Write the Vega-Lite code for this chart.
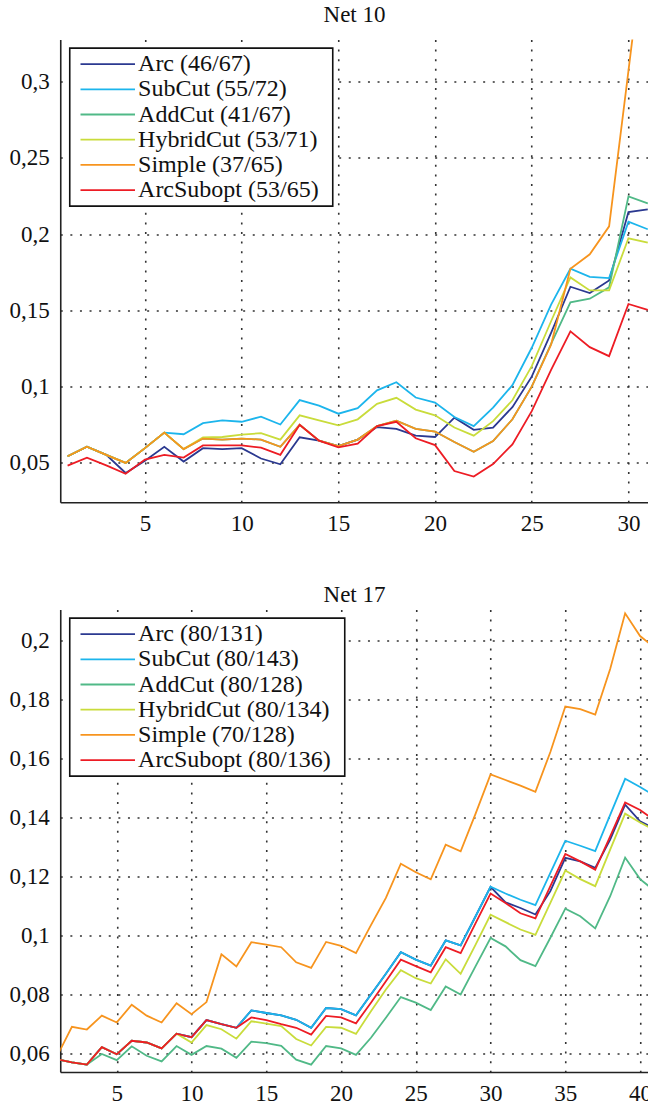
{
  "$schema": "https://vega.github.io/schema/vega-lite/v6.json",
  "background": "white",
  "padding": {"left": 8.25, "top": 3.5, "right": 0, "bottom": 0},
  "spacing": 107,
  "bounds": "flush",
  "config": {
    "view": {"stroke": null},
    "font": "Liberation Serif",
    "title": {"font": "Liberation Serif", "fontSize": 23, "fontWeight": "normal", "color": "#111", "anchor": "middle", "baseline": "alphabetic"},
    "axis": {
      "title": null, "grid": true, "gridColor": "#333", "gridDash": [2, 7.6], "gridWidth": 1.6,
      "domainColor": "#222", "domainWidth": 1.6, "ticks": false,
      "labelFont": "Liberation Serif", "labelFontSize": 23, "labelColor": "#111"
    },
    "axisX": {"labelPadding": 10},
    "axisY": {"labelPadding": 11},
    "legend": {
      "orient": "none", "legendX": 9.5, "legendY": 8.6,
      "titleOrient": "right", "titlePadding": 10, "titleFontSize": 3, "titleColor": "white",
      "symbolType": "M-2.5,0H2.5", "symbolSize": 475, "symbolStrokeWidth": 1.8,
      "symbolOffset": 22, "labelOffset": 18.3, "rowPadding": 1.2, "padding": 4,
      "labelFont": "Liberation Serif", "labelFontSize": 24, "labelColor": "#111",
      "strokeColor": "#111", "strokeWidth": 1.6, "fillColor": "white", "cornerRadius": 0, "labelLimit": 400
    },
    "line": {"strokeWidth": 1.8, "clip": true}
  },
  "datasets": {
    "net10": [
      {"x":1,"Arc":0.0544,"SubCut":0.0544,"AddCut":0.0544,"HybridCut":0.0544,"Simple":0.0544,"ArcSubopt":0.0482},
      {"x":2,"Arc":0.0606,"SubCut":0.0606,"AddCut":0.0606,"HybridCut":0.0606,"Simple":0.0606,"ArcSubopt":0.0535},
      {"x":3,"Arc":0.0553,"SubCut":0.0553,"AddCut":0.0553,"HybridCut":0.0553,"Simple":0.0553,"ArcSubopt":0.0484},
      {"x":4,"Arc":0.0434,"SubCut":0.0500,"AddCut":0.0500,"HybridCut":0.0500,"Simple":0.0500,"ArcSubopt":0.0429},
      {"x":5,"Arc":0.0515,"SubCut":0.0597,"AddCut":0.0597,"HybridCut":0.0597,"Simple":0.0597,"ArcSubopt":0.0522},
      {"x":6,"Arc":0.0606,"SubCut":0.0699,"AddCut":0.0699,"HybridCut":0.0699,"Simple":0.0699,"ArcSubopt":0.0553},
      {"x":7,"Arc":0.0509,"SubCut":0.0688,"AddCut":0.0591,"HybridCut":0.0591,"Simple":0.0591,"ArcSubopt":0.0535},
      {"x":8,"Arc":0.0597,"SubCut":0.0761,"AddCut":0.0660,"HybridCut":0.0668,"Simple":0.0660,"ArcSubopt":0.0615},
      {"x":9,"Arc":0.0591,"SubCut":0.0779,"AddCut":0.0653,"HybridCut":0.0670,"Simple":0.0653,"ArcSubopt":0.0615},
      {"x":10,"Arc":0.0597,"SubCut":0.0770,"AddCut":0.0660,"HybridCut":0.0686,"Simple":0.0660,"ArcSubopt":0.0615},
      {"x":11,"Arc":0.0529,"SubCut":0.0803,"AddCut":0.0653,"HybridCut":0.0695,"Simple":0.0653,"ArcSubopt":0.0600},
      {"x":12,"Arc":0.0491,"SubCut":0.0752,"AddCut":0.0606,"HybridCut":0.0653,"Simple":0.0606,"ArcSubopt":0.0553},
      {"x":13,"Arc":0.0668,"SubCut":0.0912,"AddCut":0.0750,"HybridCut":0.0812,"Simple":0.0750,"ArcSubopt":0.0750},
      {"x":14,"Arc":0.0646,"SubCut":0.0876,"AddCut":0.0646,"HybridCut":0.0779,"Simple":0.0646,"ArcSubopt":0.0646},
      {"x":15,"Arc":0.0611,"SubCut":0.0823,"AddCut":0.0611,"HybridCut":0.0746,"Simple":0.0611,"ArcSubopt":0.0602},
      {"x":16,"Arc":0.0653,"SubCut":0.0859,"AddCut":0.0653,"HybridCut":0.0786,"Simple":0.0653,"ArcSubopt":0.0626},
      {"x":17,"Arc":0.0735,"SubCut":0.0976,"AddCut":0.0741,"HybridCut":0.0887,"Simple":0.0741,"ArcSubopt":0.0741},
      {"x":18,"Arc":0.0724,"SubCut":0.1029,"AddCut":0.0777,"HybridCut":0.0927,"Simple":0.0777,"ArcSubopt":0.0770},
      {"x":19,"Arc":0.0679,"SubCut":0.0929,"AddCut":0.0724,"HybridCut":0.0850,"Simple":0.0724,"ArcSubopt":0.0662},
      {"x":20,"Arc":0.0670,"SubCut":0.0896,"AddCut":0.0706,"HybridCut":0.0812,"Simple":0.0706,"ArcSubopt":0.0617},
      {"x":21,"Arc":0.0797,"SubCut":0.0801,"AddCut":0.0637,"HybridCut":0.0732,"Simple":0.0637,"ArcSubopt":0.0447},
      {"x":22,"Arc":0.0717,"SubCut":0.0741,"AddCut":0.0573,"HybridCut":0.0679,"Simple":0.0573,"ArcSubopt":0.0411},
      {"x":23,"Arc":0.0732,"SubCut":0.0863,"AddCut":0.0644,"HybridCut":0.0774,"Simple":0.0644,"ArcSubopt":0.0493},
      {"x":24,"Arc":0.0866,"SubCut":0.1010,"AddCut":0.0786,"HybridCut":0.0911,"Simple":0.0786,"ArcSubopt":0.0622},
      {"x":25,"Arc":0.1066,"SubCut":0.1255,"AddCut":0.1000,"HybridCut":0.1135,"Simple":0.1000,"ArcSubopt":0.0840},
      {"x":26,"Arc":0.1353,"SubCut":0.1538,"AddCut":0.1280,"HybridCut":0.1429,"Simple":0.1276,"ArcSubopt":0.1110},
      {"x":27,"Arc":0.1655,"SubCut":0.1773,"AddCut":0.1553,"HybridCut":0.1716,"Simple":0.1773,"ArcSubopt":0.1363},
      {"x":28,"Arc":0.1614,"SubCut":0.1720,"AddCut":0.1577,"HybridCut":0.1631,"Simple":0.1868,"ArcSubopt":0.1259},
      {"x":29,"Arc":0.1696,"SubCut":0.1712,"AddCut":0.1651,"HybridCut":0.1631,"Simple":0.2051,"ArcSubopt":0.1200},
      {"x":30,"Arc":0.2145,"SubCut":0.2082,"AddCut":0.2247,"HybridCut":0.1973,"Simple":0.3070,"ArcSubopt":0.1542},
      {"x":31,"Arc":0.2162,"SubCut":0.2032,"AddCut":0.2201,"HybridCut":0.1944,"Simple":0.4100,"ArcSubopt":0.1503}
    ],
    "net17": [
      {"x":1,"Arc":0.0580,"SubCut":0.0580,"AddCut":0.0580,"HybridCut":0.0580,"Simple":0.0590,"ArcSubopt":0.0580},
      {"x":2,"Arc":0.0570,"SubCut":0.0570,"AddCut":0.0570,"HybridCut":0.0570,"Simple":0.0690,"ArcSubopt":0.0570},
      {"x":3,"Arc":0.0562,"SubCut":0.0562,"AddCut":0.0562,"HybridCut":0.0562,"Simple":0.0681,"ArcSubopt":0.0562},
      {"x":4,"Arc":0.0621,"SubCut":0.0621,"AddCut":0.0598,"HybridCut":0.0621,"Simple":0.0728,"ArcSubopt":0.0621},
      {"x":5,"Arc":0.0597,"SubCut":0.0597,"AddCut":0.0577,"HybridCut":0.0597,"Simple":0.0705,"ArcSubopt":0.0597},
      {"x":6,"Arc":0.0643,"SubCut":0.0643,"AddCut":0.0624,"HybridCut":0.0643,"Simple":0.0765,"ArcSubopt":0.0643},
      {"x":7,"Arc":0.0637,"SubCut":0.0637,"AddCut":0.0592,"HybridCut":0.0637,"Simple":0.0728,"ArcSubopt":0.0637},
      {"x":8,"Arc":0.0617,"SubCut":0.0617,"AddCut":0.0573,"HybridCut":0.0617,"Simple":0.0705,"ArcSubopt":0.0617},
      {"x":9,"Arc":0.0667,"SubCut":0.0667,"AddCut":0.0625,"HybridCut":0.0667,"Simple":0.0770,"ArcSubopt":0.0667},
      {"x":10,"Arc":0.0655,"SubCut":0.0655,"AddCut":0.0595,"HybridCut":0.0637,"Simple":0.0733,"ArcSubopt":0.0655},
      {"x":11,"Arc":0.0713,"SubCut":0.0713,"AddCut":0.0625,"HybridCut":0.0696,"Simple":0.0774,"ArcSubopt":0.0713},
      {"x":12,"Arc":0.0699,"SubCut":0.0699,"AddCut":0.0616,"HybridCut":0.0682,"Simple":0.0936,"ArcSubopt":0.0699},
      {"x":13,"Arc":0.0687,"SubCut":0.0687,"AddCut":0.0585,"HybridCut":0.0650,"Simple":0.0895,"ArcSubopt":0.0687},
      {"x":14,"Arc":0.0746,"SubCut":0.0746,"AddCut":0.0640,"HybridCut":0.0709,"Simple":0.0977,"ArcSubopt":0.0722},
      {"x":15,"Arc":0.0737,"SubCut":0.0737,"AddCut":0.0635,"HybridCut":0.0701,"Simple":0.0969,"ArcSubopt":0.0713},
      {"x":16,"Arc":0.0729,"SubCut":0.0729,"AddCut":0.0626,"HybridCut":0.0693,"Simple":0.0960,"ArcSubopt":0.0699},
      {"x":17,"Arc":0.0714,"SubCut":0.0714,"AddCut":0.0579,"HybridCut":0.0649,"Simple":0.0909,"ArcSubopt":0.0687},
      {"x":18,"Arc":0.0687,"SubCut":0.0687,"AddCut":0.0562,"HybridCut":0.0627,"Simple":0.0890,"ArcSubopt":0.0664},
      {"x":19,"Arc":0.0754,"SubCut":0.0754,"AddCut":0.0625,"HybridCut":0.0690,"Simple":0.0978,"ArcSubopt":0.0727},
      {"x":20,"Arc":0.0750,"SubCut":0.0750,"AddCut":0.0617,"HybridCut":0.0687,"Simple":0.0965,"ArcSubopt":0.0722},
      {"x":21,"Arc":0.0729,"SubCut":0.0729,"AddCut":0.0595,"HybridCut":0.0666,"Simple":0.0940,"ArcSubopt":0.0702},
      {"x":22,"Arc":0.0800,"SubCut":0.0800,"AddCut":0.0653,"HybridCut":0.0743,"Simple":0.1035,"ArcSubopt":0.0772},
      {"x":23,"Arc":0.0870,"SubCut":0.0870,"AddCut":0.0721,"HybridCut":0.0817,"Simple":0.1127,"ArcSubopt":0.0845},
      {"x":24,"Arc":0.0943,"SubCut":0.0943,"AddCut":0.0791,"HybridCut":0.0882,"Simple":0.1243,"ArcSubopt":0.0918},
      {"x":25,"Arc":0.0918,"SubCut":0.0918,"AddCut":0.0772,"HybridCut":0.0855,"Simple":0.1214,"ArcSubopt":0.0896},
      {"x":26,"Arc":0.0898,"SubCut":0.0898,"AddCut":0.0747,"HybridCut":0.0837,"Simple":0.1190,"ArcSubopt":0.0875},
      {"x":27,"Arc":0.0983,"SubCut":0.0983,"AddCut":0.0827,"HybridCut":0.0919,"Simple":0.1308,"ArcSubopt":0.0960},
      {"x":28,"Arc":0.0966,"SubCut":0.0966,"AddCut":0.0800,"HybridCut":0.0870,"Simple":0.1285,"ArcSubopt":0.0940},
      {"x":29,"Arc":0.1065,"SubCut":0.1065,"AddCut":0.0896,"HybridCut":0.0969,"Simple":0.1413,"ArcSubopt":0.1042},
      {"x":30,"Arc":0.1165,"SubCut":0.1165,"AddCut":0.0991,"HybridCut":0.1070,"Simple":0.1546,"ArcSubopt":0.1142},
      {"x":31,"Arc":0.1112,"SubCut":0.1142,"AddCut":0.0963,"HybridCut":0.1045,"Simple":0.1527,"ArcSubopt":0.1110},
      {"x":32,"Arc":0.1093,"SubCut":0.1121,"AddCut":0.0916,"HybridCut":0.1020,"Simple":0.1508,"ArcSubopt":0.1075},
      {"x":33,"Arc":0.1071,"SubCut":0.1103,"AddCut":0.0896,"HybridCut":0.1002,"Simple":0.1487,"ArcSubopt":0.1058},
      {"x":34,"Arc":0.1150,"SubCut":0.1212,"AddCut":0.0992,"HybridCut":0.1110,"Simple":0.1622,"ArcSubopt":0.1167},
      {"x":35,"Arc":0.1263,"SubCut":0.1321,"AddCut":0.1091,"HybridCut":0.1220,"Simple":0.1776,"ArcSubopt":0.1276},
      {"x":36,"Arc":0.1251,"SubCut":0.1304,"AddCut":0.1065,"HybridCut":0.1191,"Simple":0.1767,"ArcSubopt":0.1251},
      {"x":37,"Arc":0.1229,"SubCut":0.1286,"AddCut":0.1024,"HybridCut":0.1167,"Simple":0.1749,"ArcSubopt":0.1223},
      {"x":38,"Arc":0.1325,"SubCut":0.1409,"AddCut":0.1133,"HybridCut":0.1291,"Simple":0.1903,"ArcSubopt":0.1336},
      {"x":39,"Arc":0.1443,"SubCut":0.1531,"AddCut":0.1264,"HybridCut":0.1413,"Simple":0.2092,"ArcSubopt":0.1451},
      {"x":40,"Arc":0.1387,"SubCut":0.1503,"AddCut":0.1191,"HybridCut":0.1383,"Simple":0.2015,"ArcSubopt":0.1425},
      {"x":41,"Arc":0.1362,"SubCut":0.1473,"AddCut":0.1150,"HybridCut":0.1356,"Simple":0.1975,"ArcSubopt":0.1390}
    ]
  },
  "resolve": {"scale": {"color": "independent", "x": "independent", "y": "independent"}},
  "vconcat": [
    {
      "title": {"text": "Net 10", "offset": 12.9},
      "width": 588.5,
      "height": 462.8,
      "data": {"name": "net10"},
      "transform": [{"fold": ["Arc", "SubCut", "AddCut", "HybridCut", "Simple", "ArcSubopt"], "as": ["method", "v"]}],
      "mark": {"type": "line", "clip": true},
      "encoding": {
        "x": {"field": "x", "type": "quantitative",
              "scale": {"domain": [0.62, 31.05], "nice": false, "zero": false},
              "axis": {"values": [5, 10, 15, 20, 25, 30]}},
        "y": {"field": "v", "type": "quantitative",
              "scale": {"domain": [0.0242, 0.3276], "nice": false, "zero": false},
              "axis": {"values": [0.05, 0.1, 0.15, 0.2, 0.25, 0.3], "labelExpr": "replace(format(datum.value, '.2~f'), '.', ',')"}},
        "color": {"field": "method", "type": "nominal",
                  "scale": {"domain": ["Arc", "SubCut", "AddCut", "HybridCut", "Simple", "ArcSubopt"],
                            "range": ["#2b3990", "#1cb5ec", "#50b987", "#c9dc3b", "#f7941e", "#ed1c24"]},
                  "legend": {"title": "\u00a0", "labelExpr": "datum.label == 'Arc' ? 'Arc (46/67)' : datum.label == 'SubCut' ? 'SubCut (55/72)' : datum.label == 'AddCut' ? 'AddCut (41/67)' : datum.label == 'HybridCut' ? 'HybridCut (53/71)' : datum.label == 'Simple' ? 'Simple (37/65)' : 'ArcSubopt (53/65)'"}}
      }
    },
    {
      "title": {"text": "Net 17", "offset": 2.6},
      "width": 588.5,
      "height": 462.5,
      "data": {"name": "net17"},
      "transform": [{"fold": ["Arc", "SubCut", "AddCut", "HybridCut", "Simple", "ArcSubopt"], "as": ["method", "v"]}],
      "mark": {"type": "line", "clip": true},
      "encoding": {
        "x": {"field": "x", "type": "quantitative",
              "scale": {"domain": [1.22, 40.58], "nice": false, "zero": false},
              "axis": {"values": [5, 10, 15, 20, 25, 30, 35, 40]}},
        "y": {"field": "v", "type": "quantitative",
              "scale": {"domain": [0.0537, 0.2105], "nice": false, "zero": false},
              "axis": {"values": [0.06, 0.08, 0.1, 0.12, 0.14, 0.16, 0.18, 0.2], "labelExpr": "replace(format(datum.value, '.2~f'), '.', ',')"}},
        "color": {"field": "method", "type": "nominal",
                  "scale": {"domain": ["Arc", "SubCut", "AddCut", "HybridCut", "Simple", "ArcSubopt"],
                            "range": ["#2b3990", "#1cb5ec", "#50b987", "#c9dc3b", "#f7941e", "#ed1c24"]},
                  "legend": {"title": "\u00a0", "labelExpr": "datum.label == 'Arc' ? 'Arc (80/131)' : datum.label == 'SubCut' ? 'SubCut (80/143)' : datum.label == 'AddCut' ? 'AddCut (80/128)' : datum.label == 'HybridCut' ? 'HybridCut (80/134)' : datum.label == 'Simple' ? 'Simple (70/128)' : 'ArcSubopt (80/136)'"}}
      }
    }
  ]
}
